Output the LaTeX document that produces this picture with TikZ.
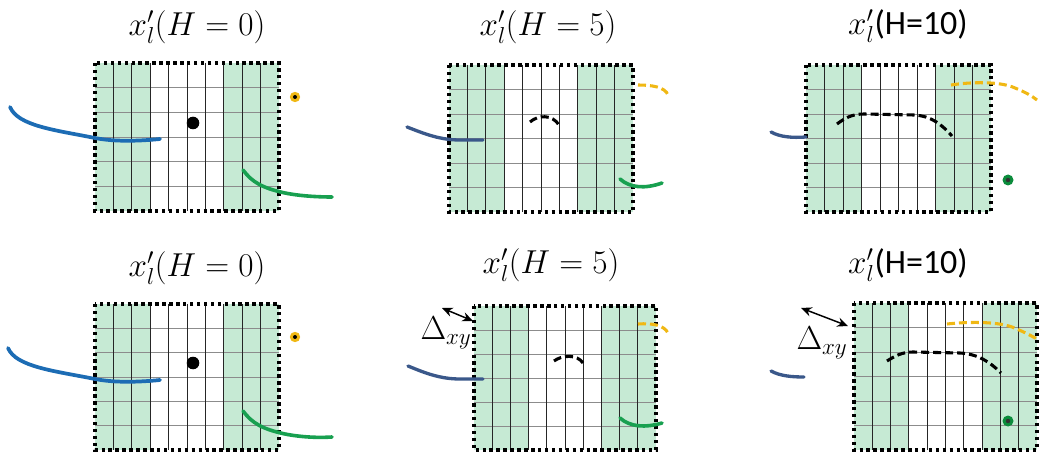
\documentclass[tikz,border=0pt]{standalone}
\usepackage{fontspec}
\newfontfamily\calib{Carlito}
\usetikzlibrary{arrows.meta}
\definecolor{mint}{RGB}{198,234,212}
\definecolor{cblue}{RGB}{28,108,180}
\definecolor{cnavy}{RGB}{58,88,138}
\definecolor{cgreen}{RGB}{24,160,80}
\definecolor{cyellow}{RGB}{240,184,20}
\definecolor{cdot}{RGB}{12,140,60}
\definecolor{hgray}{RGB}{140,140,140}
\tikzset{
  gfill/.style={fill=mint},
  hline/.style={draw=hgray, line width=0.55pt},
  vline/.style={draw=black!85, line width=0.75pt},
  border/.style={draw=black, line width=2.6pt, dash pattern=on 2.6pt off 2.6pt},
  title/.style={font=\fontsize{25.5}{30}\selectfont, inner sep=0pt},
  dlabel/.style={font=\fontsize{23}{27}\selectfont, inner sep=0pt},
  bluec/.style={draw=cblue, line width=2.8pt, line cap=round},
  navyc/.style={draw=cnavy, line width=2.5pt, line cap=round},
  greenc/.style={draw=cgreen, line width=2.7pt, line cap=round},
  blackd/.style={draw=black, line width=2.3pt, dash pattern=on 6pt off 3pt},
  yellowd/.style={draw=cyellow, line width=2.3pt, dash pattern=on 6pt off 3pt},
  dxy/.style={{Stealth[length=8pt,width=7pt]}-{Stealth[length=8pt,width=7pt]}, line width=1.1pt},
}
\newcommand\gridpanel[5]{%
  \fill[gfill] (#2,#3) rectangle ++({0.3*#4},#5);
  \fill[gfill] ({#2+0.7*#4},#3) rectangle ++({0.3*#4},#5);
  \foreach \i in {1,...,5} \draw[hline] (#2,{#3+\i*#5/6}) -- ++(#4,0);
  \foreach \i in {1,...,9} \draw[vline] ({#2+\i*#4/10},#3) -- ++(0,#5);
  \node[inner sep=0pt, outer sep=0pt, minimum width={#4*0.75pt}, minimum height={#5*0.75pt}, anchor=north west] (#1) at (#2,#3) {};
  \draw[border] (#1.north west) rectangle (#1.south east);
}
\begin{document}
\begin{tikzpicture}[x=0.75pt,y=-0.75pt]
\useasboundingbox (0,0) rectangle (1039,452);
% ---------------- top row ----------------
\gridpanel{t1}{95}{63}{184}{148}
\gridpanel{t2}{449}{65}{184}{147}
\gridpanel{t3}{806}{65}{185}{147}
\node[title] (tt1) at (197,27) {$x'_l(H=0)$};
\node[title] (tt2) at (548,27) {$x'_l(H=5)$};
\node[title] (tt3) at (908,26) {$x'_l$\calib(H=10)};
% panel 1
\draw[bluec] (10,107) .. controls (18,126) and (55,130) .. (95,138) .. controls (115,142) and (140,141) .. (160,139);
\draw[greenc] (243,170) .. controls (252,182) and (262,188) .. (285,193) .. controls (300,196) and (318,197) .. (332,197);
\fill[black] (193,123) circle[radius=6.3];
\fill[cyellow] (295,97) circle[radius=5.2];
\fill[black] (295,97) circle[radius=2];
% panel 2
\draw[navyc] (407,127) .. controls (425,134) and (440,140) .. (460,140) -- (483,140);
\draw[blackd] (530,122) .. controls (538,115) and (552,114) .. (559,125);
\draw[yellowd] (638,85) .. controls (652,85) and (665,87) .. (668,95);
\draw[greenc] (620,179) .. controls (630,188) and (645,189) .. (662,183);
% panel 3
\draw[navyc] (771,132) .. controls (780,137) and (792,138) .. (806,137);
\draw[blackd] (837,124) .. controls (845,118) and (852,114) .. (864,114) -- (914,115) .. controls (932,116) and (942,125) .. (952,136);
\draw[yellowd] (951,85) .. controls (970,82) and (1000,81) .. (1015,88) .. controls (1025,92) and (1032,96) .. (1037,100);
\fill[cdot] (1008,180) circle[radius=5.5];
\fill[black!80] (1008,180) circle[radius=2.2];
% ---------------- bottom row ----------------
\gridpanel{b1}{95}{304}{184}{146}
\gridpanel{b2}{474}{306}{182}{144}
\gridpanel{b3}{854}{303}{183}{147}
\node[title] (bt1) at (197,268) {$x'_l(H=0)$};
\node[title] (bt2) at (551,265) {$x'_l(H=5)$};
\node[title] (bt3) at (908,265) {$x'_l$\calib(H=10)};
% panel 1
\draw[bluec] (8,348) .. controls (16,367) and (55,371) .. (95,379) .. controls (115,383) and (140,382) .. (160,380);
\draw[greenc] (243,411) .. controls (252,423) and (262,429) .. (285,434) .. controls (300,437) and (318,438) .. (332,437);
\fill[black] (193,363) circle[radius=6.3];
\fill[cyellow] (295,337) circle[radius=5.2];
\fill[black] (295,337) circle[radius=2];
% panel 2
\node[dlabel] (d2) at (446,333) {$\Delta_{xy}$};
\coordinate (a2s) at (442,308);
\coordinate (a2e) at (473,321);
\draw[dxy] (a2s) -- (a2e);
\draw[navyc] (408,366) .. controls (425,373) and (440,379) .. (460,379) -- (483,379);
\draw[blackd] (554,361) .. controls (562,355) and (577,354) .. (583,363);
\draw[yellowd] (638,324) .. controls (652,323) and (664,325) .. (668,333);
\draw[greenc] (620,418) .. controls (630,427) and (645,428) .. (662,423);
% panel 3
\node[dlabel] (d3) at (822,343) {$\Delta_{xy}$};
\coordinate (a3s) at (801,308);
\coordinate (a3e) at (848,326);
\draw[dxy] (a3s) -- (a3e);
\draw[navyc] (771,371) .. controls (780,376) and (792,377) .. (804,377);
\draw[blackd] (887,361) .. controls (895,356) and (902,352) .. (913,352) -- (960,353) .. controls (978,354) and (990,362) .. (1001,373);
\draw[yellowd] (947,324) .. controls (965,322) and (995,321) .. (1012,327) .. controls (1022,331) and (1030,335) .. (1037,339);
\fill[cdot] (1008,421) circle[radius=5.5];
\fill[black!80] (1008,421) circle[radius=2.2];
\end{tikzpicture}
\end{document}
